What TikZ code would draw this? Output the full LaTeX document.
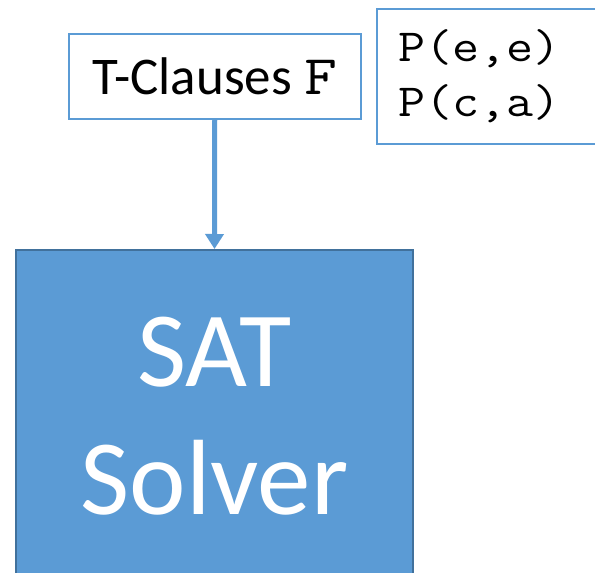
\documentclass[tikz,border=0pt]{standalone}
\usepackage{fontspec}
\setmainfont{Carlito}
\newfontfamily\monof[FakeStretch=1.14]{Latin Modern Mono}
\usetikzlibrary{arrows.meta}
\definecolor{accent}{HTML}{5B9BD5}
\definecolor{accentdark}{HTML}{41719C}
\begin{document}
\begin{tikzpicture}[x=1pt,y=-1pt,
  outbox/.style={draw=accent, line width=1.5pt, fill=white, inner sep=0pt},
  satbox/.style={draw=accentdark, line width=2pt, fill=accent, inner sep=0pt, text=white,
    font=\fontsize{107}{128}\selectfont, align=center},
  arr/.style={draw=accent, line width=5pt, -{Triangle[width=18pt,length=15pt]}}]
\clip (0,0) rectangle (595,573);
\fill[white] (0,0) rectangle (595,573);
\node[outbox, minimum width=292pt, minimum height=85pt, anchor=north west,
  font=\fontsize{53}{60}\selectfont] (t) at (68,33) {T-Clauses {\monof\fontsize{56}{60}\selectfont F}};
\node[outbox, anchor=north west, minimum height=135pt, text width=200pt, inner xsep=22pt,
  align=left, font=\monof\fontsize{46}{55}\selectfont] (p) at (376,8) {P(e,e)\\P(c,a)};
\node[satbox, minimum width=397pt, minimum height=332pt, anchor=north west] (sat) at (15,249) {SAT\\Solver};
\draw[arr] (t.south) -- (sat.north);
\end{tikzpicture}
\end{document}
